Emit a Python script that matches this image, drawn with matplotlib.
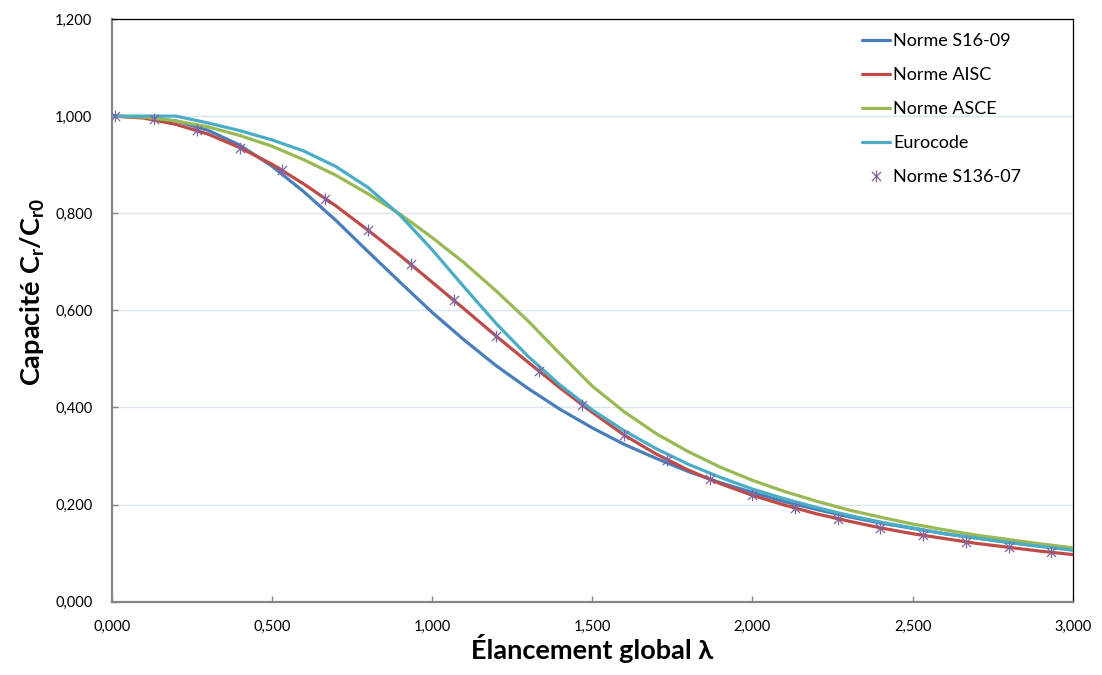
import matplotlib
matplotlib.use("Agg")
import matplotlib.pyplot as plt
from matplotlib.path import Path
from matplotlib.ticker import FuncFormatter, MultipleLocator


# =========================================================
# Data
# =========================================================

lam = [0.0, 0.1, 0.2, 0.3, 0.4, 0.5, 0.6, 0.7, 0.8, 0.9, 1.0, 1.1, 1.2,
       1.3, 1.4, 1.5, 1.6, 1.7, 1.8, 1.9, 2.0, 2.1, 2.2, 2.3, 2.4, 2.5,
       2.6, 2.7, 2.8, 2.9, 3.0]

s16 = [1.000, 0.998, 0.990, 0.971, 0.940, 0.897, 0.844, 0.785, 0.721, 0.658,
       0.596, 0.539, 0.486, 0.439, 0.396, 0.358, 0.324, 0.295, 0.268, 0.245,
       0.225, 0.206, 0.190, 0.175, 0.162, 0.151, 0.140, 0.131, 0.122, 0.114,
       0.107]
aisc = [1.000, 0.996, 0.983, 0.963, 0.935, 0.901, 0.860, 0.815, 0.765, 0.713,
        0.658, 0.603, 0.547, 0.493, 0.440, 0.390, 0.343, 0.304, 0.271, 0.243,
        0.219, 0.199, 0.181, 0.166, 0.152, 0.140, 0.130, 0.120, 0.112, 0.104,
        0.097]
asce = [1.000, 0.998, 0.990, 0.978, 0.960, 0.938, 0.910, 0.878, 0.840, 0.798,
        0.750, 0.698, 0.640, 0.578, 0.510, 0.444, 0.391, 0.346, 0.309, 0.277,
        0.250, 0.227, 0.207, 0.189, 0.174, 0.160, 0.148, 0.137, 0.128, 0.119,
        0.111]
euro = [1.000, 1.000, 1.000, 0.986, 0.970, 0.951, 0.928, 0.896, 0.853, 0.796,
        0.725, 0.648, 0.573, 0.505, 0.446, 0.395, 0.352, 0.315, 0.283, 0.256,
        0.232, 0.212, 0.194, 0.178, 0.164, 0.152, 0.140, 0.131, 0.122, 0.114,
        0.106]

s136_lam = [0.010, 0.133, 0.267, 0.400, 0.533, 0.667, 0.800, 0.933, 1.067,
            1.200, 1.333, 1.467, 1.600, 1.733, 1.867, 2.000, 2.133, 2.267,
            2.400, 2.533, 2.667, 2.800, 2.933]
s136 = [1.000, 0.993, 0.971, 0.935, 0.888, 0.830, 0.765, 0.695, 0.621,
        0.547, 0.475, 0.406, 0.343, 0.292, 0.252, 0.219, 0.193, 0.171,
        0.152, 0.137, 0.123, 0.112, 0.102]

labels = ["Norme S16-09", "Norme AISC", "Norme ASCE", "Eurocode", "Norme S136-07"]


# =========================================================
# Style
# =========================================================

plt.rcParams["font.family"] = ["Lato", "DejaVu Sans"]
plt.rcParams["mathtext.fontset"] = "custom"
plt.rcParams["mathtext.rm"] = "Lato:bold"
plt.rcParams["mathtext.it"] = "Lato:bold"
plt.rcParams["mathtext.bf"] = "Lato:bold"

BLUE = "#4A7EBB"
RED = "#BE4B48"
GREEN = "#98B954"
CYAN = "#4BACC6"
PURPLE = "#8064A2"
GRID = "#DCE4EE"
AXIS = "#868686"

# Excel "x with star" marker
star = Path(
    [(-1, -1), (1, 1), (-1, 1), (1, -1), (0, -1.3), (0, 1.3)],
    [Path.MOVETO, Path.LINETO] * 3,
)

comma = FuncFormatter(lambda v, pos: f"{v:.3f}".replace(".", ","))


# =========================================================
# Figure
# =========================================================

fig = plt.figure(figsize=(11.02, 6.75), dpi=100)
ax = fig.add_axes([0.1014, 0.1086, 0.9734 - 0.1014, 0.9719 - 0.1086])

line_kw = dict(lw=2.3, zorder=3, solid_joinstyle="round", solid_capstyle="round")
ax.plot(lam, s16, color=BLUE, label=labels[0], **line_kw)
ax.plot(lam, aisc, color=RED, label=labels[1], **line_kw)
ax.plot(lam, asce, color=GREEN, label=labels[2], **line_kw)
ax.plot(lam, euro, color=CYAN, label=labels[3], **line_kw)
ax.plot(s136_lam, s136, ls="none", marker=star, markersize=8.5,
        markeredgecolor=PURPLE, markerfacecolor="none", markeredgewidth=0.9,
        label=labels[4], zorder=4)

ax.set_xlim(0, 3)
ax.set_ylim(0, 1.2)
ax.xaxis.set_major_locator(MultipleLocator(0.5))
ax.yaxis.set_major_locator(MultipleLocator(0.2))
ax.xaxis.set_major_formatter(comma)
ax.yaxis.set_major_formatter(comma)

ax.grid(axis="y", color=GRID, lw=1.0, zorder=0)
ax.set_axisbelow(True)

for side in ["left", "bottom"]:
    ax.spines[side].set_color(AXIS)
    ax.spines[side].set_linewidth(1.6)
for side in ["top", "right"]:
    ax.spines[side].set_color("black")
    ax.spines[side].set_linewidth(0.9)

ax.tick_params(axis="both", direction="in", length=4, width=1,
               color=AXIS, labelsize=10.5, labelcolor="black")
ax.tick_params(axis="x", pad=13)
ax.tick_params(axis="y", pad=14)

ax.set_xlabel("Élancement global λ", fontsize=19.5, fontweight="bold", labelpad=0)
ax.set_ylabel(r"Capacité C$_{\mathrm{r}}$/C$_{\mathrm{r0}}$",
              fontsize=19.5, fontweight="bold")
ax.yaxis.set_label_coords(-0.067, 0.531)

fig.legend(loc="upper left", bbox_to_anchor=(0.782, 0.951),
           bbox_transform=fig.transFigure, frameon=False, fontsize=13,
           handlelength=1.55, handletextpad=0.2, labelspacing=1.0,
           borderpad=0, borderaxespad=0)

fig.savefig("out.png", dpi=100)
